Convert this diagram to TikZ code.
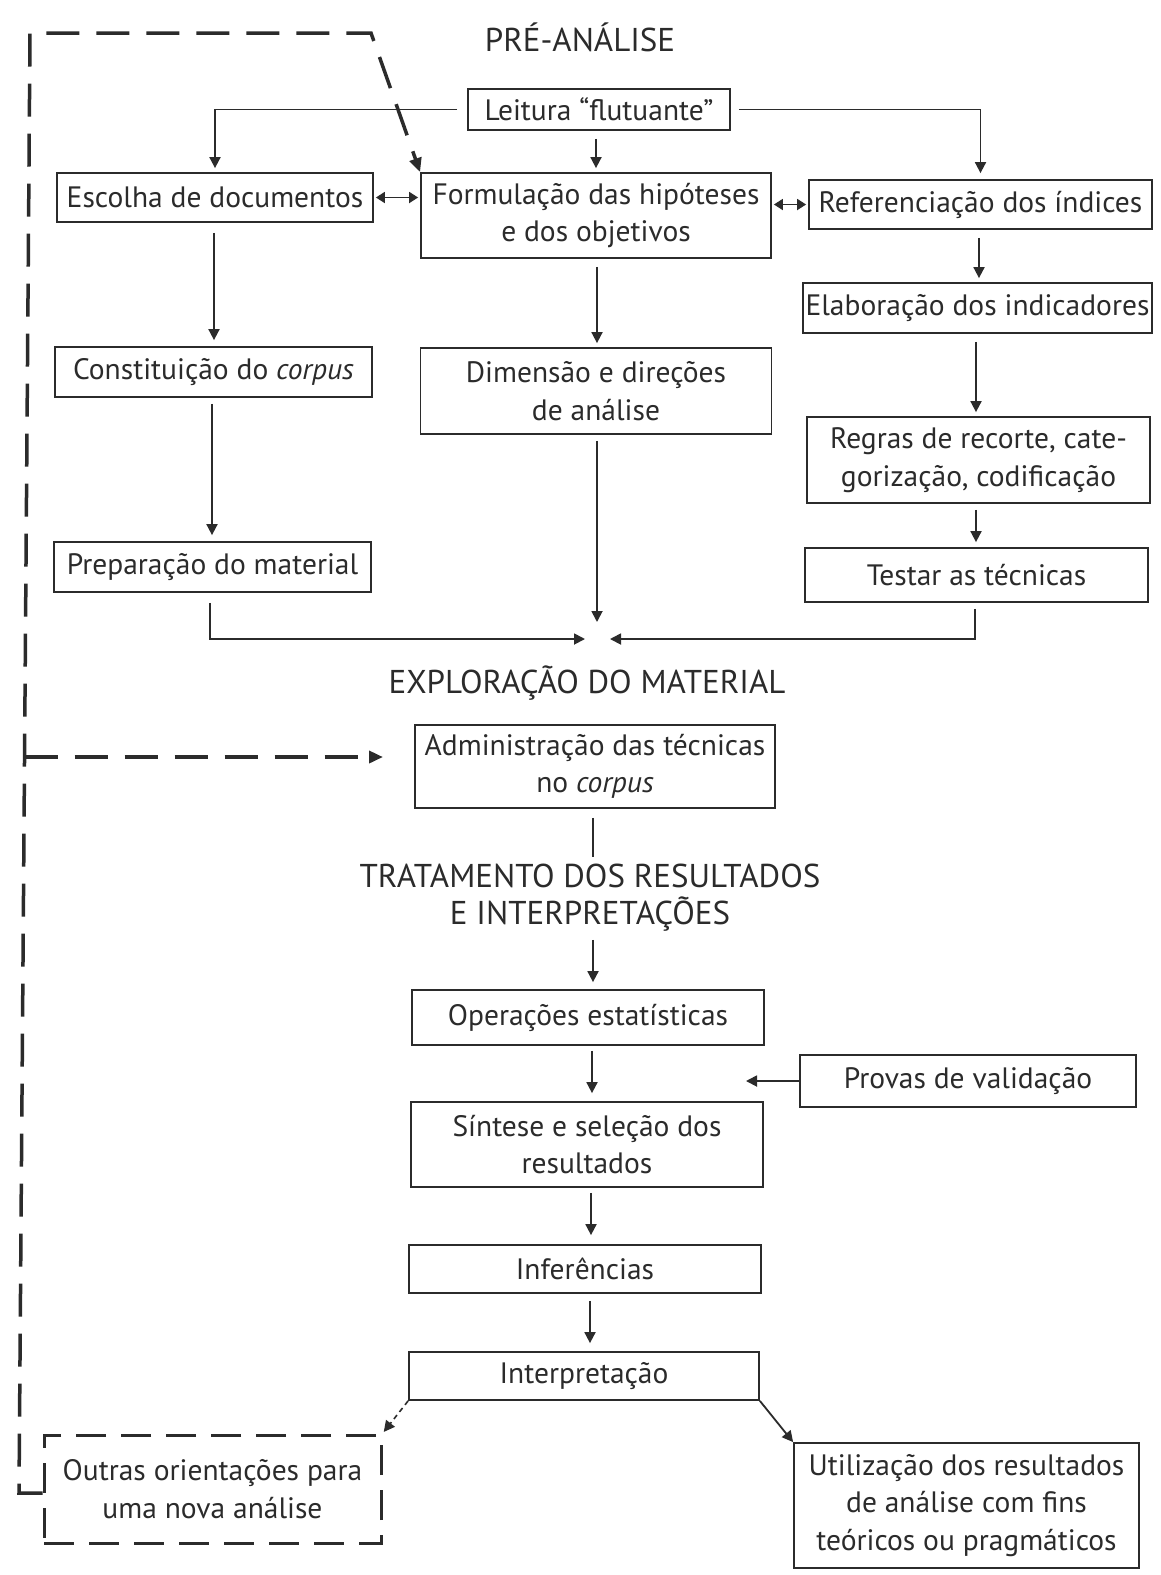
\documentclass[tikz,border=0pt]{standalone}
\usepackage{fontspec}
\setmainfont{PT Sans}
\usetikzlibrary{arrows.meta,calc}
\definecolor{ink}{HTML}{2b2b2b}
\begin{document}
\begin{tikzpicture}[x=1pt,y=-1pt,
 box/.style={draw=ink, line width=1.8pt, text=ink, align=center, inner sep=0pt, font=\fontsize{29.5}{37.5}\selectfont},
 dbox/.style={box, line width=3pt, dash pattern=on 30pt off 15pt},
 ttl/.style={text=ink, align=center, inner sep=0pt, font=\fontsize{33}{37}\selectfont},
 conn/.style={draw=ink, line width=1.8pt},
 tip/.style={-{Triangle[length=11pt,width=11pt]}},
 arr/.style={conn, tip},
 darr/.style={conn, {Triangle[length=9pt,width=11pt]}-{Triangle[length=9pt,width=11pt]}},
 loopline/.style={draw=ink, line width=3.5pt, dash pattern=on 33pt off 17pt},
 gap/.style={shorten <=8pt, shorten >=4pt},
]
\useasboundingbox[fill=white] (0,0) rectangle (1161,1575);

% titles
\node[ttl] (pre) at (580,37) {PRÉ-ANÁLISE};
\node[ttl] (expl) at (587,683) {EXPLORAÇÃO DO MATERIAL};
\node[ttl] (trat) at (590,898) {TRATAMENTO DOS RESULTADOS\\E INTERPRETAÇÕES};

% boxes
\node[box, minimum width=262pt, minimum height=41pt] (lei) at (599,109.5) {Leitura “flutuante”};
\node[box, minimum width=316pt, minimum height=49pt] (esc) at (215,197.5) {Escolha de documentos};
\node[box, minimum width=350pt, minimum height=85pt] (form) at (596,215.5) {Formulação das hipóteses\\e dos objetivos};
\node[box, minimum width=343pt, minimum height=49pt] (ref) at (980.5,204.5) {Referenciação dos índices};
\node[box, minimum width=349pt, minimum height=50pt] (elab) at (977.5,308) {Elaboração dos indicadores};
\node[box, minimum width=317pt, minimum height=50pt] (const) at (213.5,372) {Constituição do \textit{corpus}};
\node[box, minimum width=351pt, minimum height=86pt] (dim) at (596,391) {Dimensão e direções\\de análise};
\node[box, minimum width=343pt, minimum height=86pt] (regras) at (978.5,460) {Regras de recorte, cate-\\gorização, codificação};
\node[box, minimum width=317pt, minimum height=50pt] (prep) at (212.5,567) {Preparação do material};
\node[box, minimum width=343pt, minimum height=54pt] (testar) at (976.5,575) {Testar as técnicas};
\node[box, minimum width=360pt, minimum height=83pt] (admin) at (595,766.5) {Administração das técnicas\\no \textit{corpus}};
\node[box, minimum width=352pt, minimum height=55pt] (oper) at (588,1017.5) {Operações estatísticas};
\node[box, minimum width=336pt, minimum height=52pt] (provas) at (968,1081) {Provas de validação};
\node[box, minimum width=352pt, minimum height=85pt] (sint) at (587,1144.5) {Síntese e seleção dos\\resultados};
\node[box, minimum width=352pt, minimum height=48pt] (infer) at (585,1269) {Inferências};
\node[box, minimum width=350pt, minimum height=48pt] (interp) at (584,1376) {Interpretação};
\node[dbox, minimum width=337pt, minimum height=108pt] (outras) at (212.5,1489) {Outras orientações para\\uma nova análise};
\node[box, minimum width=345pt, minimum height=125pt] (util) at (966.5,1505.5) {Utilização dos resultados\\de análise com fins\\teóricos ou pragmáticos};

% coordinates
\coordinate (mL) at (585,639);
\coordinate (mR) at (610,639);
\coordinate (mT) at (597,622);
\coordinate (pv) at (746,1081);
\coordinate (lt) at (30,33);
\coordinate (lr) at (371,33);
\coordinate (lb) at (19,1493);
\coordinate (lm) at (24.5,757);
\coordinate (at) at (383,757);

% connectors
\draw[arr, shorten <=10pt, shorten >=4pt] (lei.west) -| (esc.north);
\draw[arr, gap] (lei.south -| form.north) -- (form.north);
\draw[arr, shorten <=8pt, shorten >=6pt] (lei.east) -| (ref.north);
\draw[darr, shorten <=2pt, shorten >=2pt] (esc.east) -- (esc.east -| form.west);
\draw[darr, shorten <=2pt, shorten >=2pt] (ref.west -| form.east) -- (ref.west);
\draw[arr, gap] (ref.south -| 979,0) -- (elab.north -| 979,0);
\draw[arr, gap] (elab.south -| 976,0) -- (regras.north -| 976,0);
\draw[arr, shorten <=6pt, shorten >=5pt] (regras.south -| 976,0) -- (testar.north -| 976,0);
\draw[arr, shorten <=10pt, shorten >=6pt] (esc.south -| 214,0) -- (const.north -| 214,0);
\draw[arr, shorten <=6pt, shorten >=6pt] (const.south -| 212,0) -- (prep.north -| 212,0);
\draw[arr, gap] (form.south -| 597,0) -- (dim.north -| 597,0);
\draw[arr, shorten <=6pt] (dim.south -| mT) -- (mT);
\draw[arr, shorten <=10pt] (prep.south -| 210,0) |- (mL);
\draw[arr, shorten <=6pt] (testar.south -| 975,0) |- (mR);
\draw[conn, shorten <=9pt, shorten >=7pt] (admin.south -| 593,0) -- (trat.north -| 593,0);
\draw[arr, shorten <=8pt, shorten >=7pt] (trat.south -| 593,0) -- (oper.north -| 593,0);
\draw[arr, shorten <=5pt, shorten >=8pt] (oper.south -| 592,0) -- (sint.north -| 592,0);
\draw[arr] (provas.west) -- (pv);
\draw[arr, shorten <=5pt, shorten >=9pt] (sint.south -| 591,0) -- (infer.north -| 591,0);
\draw[arr, shorten <=7pt, shorten >=8pt] (infer.south -| 590,0) -- (interp.north -| 590,0);
\draw[conn, line width=1.6pt, dash pattern=on 5pt off 4pt, tip, shorten >=2pt] (interp.south west) -- (outras.north east);
\draw[arr] (interp.south east) -- (util.north west);

% dashed feedback loop
\draw[loopline, -{Triangle[length=14pt,width=12pt]}] (outras.west |- lb) -- (lb) -- (lt) -- (lr) -- (form.north west);
\draw[loopline, -{Triangle[length=14pt,width=12pt]}] (lm) -- (at);
\end{tikzpicture}
\end{document}
